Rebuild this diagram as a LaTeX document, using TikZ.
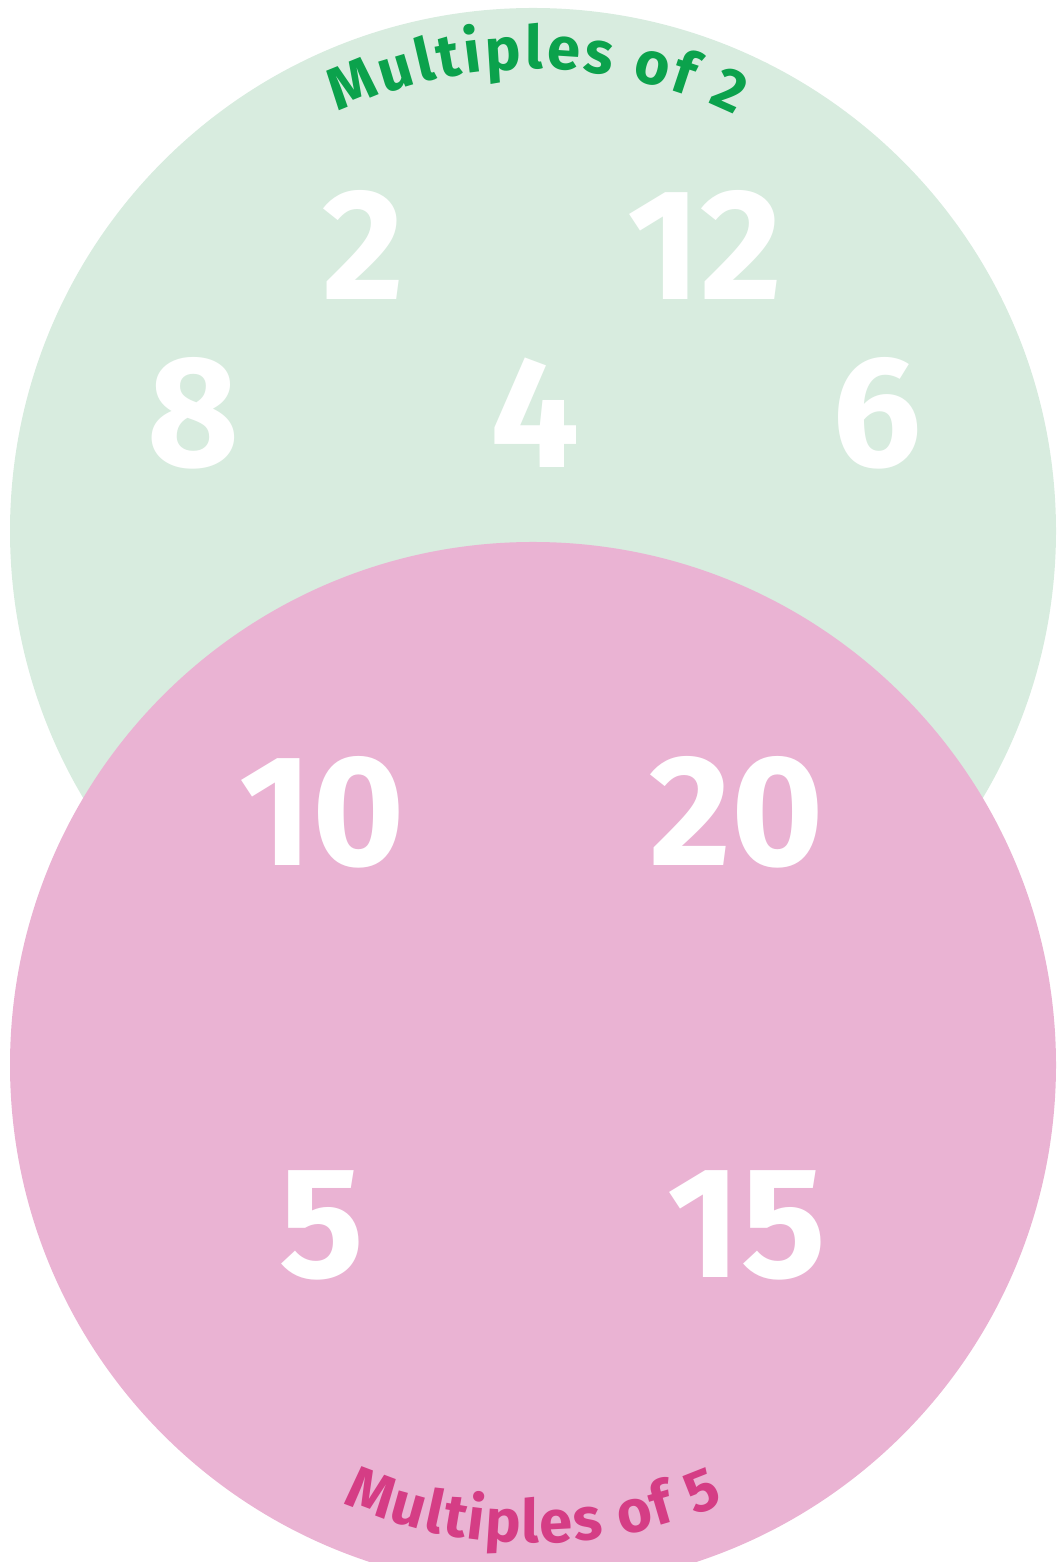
\documentclass[tikz,border=0pt]{standalone}
\usepackage{fontspec}
\setmainfont{Fira Sans}
\newfontfamily\numfont{Fira Sans}
\usetikzlibrary{decorations.text}
\definecolor{twobg}{HTML}{D8ECDF}
\definecolor{fivebg}{HTML}{EAB3D3}
\definecolor{twotext}{HTML}{0BA24C}
\definecolor{fivetext}{HTML}{D53D85}
\newcommand{\titlefont}{\bfseries\fontsize{34}{34}\selectfont}
\begin{document}
\begin{tikzpicture}[x=0.02cm,y=0.02cm,
    num/.style={text=white,inner sep=0pt,font=\numfont\bfseries\fontsize{90}{90}\selectfont}]
    \useasboundingbox (0,0) rectangle (1056,1562);
    \clip (0,0) rectangle (1056,1562);
    % the two sets
    \fill[twobg] (533,1031) circle[radius=523];
    \fill[fivebg] (533,497) circle[radius=523];
    % titles
    \path[decorate,decoration={text along path,text align={fit to path},text color=twotext,
        text={|\titlefont|Multiples of 2}}]
        (533,1031) ++(115:462) arc[start angle=115,end angle=64,radius=462];
    \path[decorate,decoration={text along path,text align={fit to path},text color=fivetext,
        text={|\titlefont|Multiples of 5}}]
        (533,497) ++(246.5:478) arc[start angle=246.5,end angle=293.5,radius=478];
    % multiples of 2 only
    \node[num] (two) at (363,1317) {2};
    \node[num] (twelve) at (705,1317) {12};
    \node[num] (eight) at (193,1149) {8};
    \node[num] (four) at (535,1149) {4};
    \node[num] (six) at (877,1149) {6};
    % both
    \node[num] (ten) at (322,750) {10};
    \node[num] (twenty) at (737,750) {20};
    % multiples of 5 only
    \node[num] (five) at (322,337) {5};
    \node[num] (fifteen) at (747,337) {15};
\end{tikzpicture}
\end{document}
